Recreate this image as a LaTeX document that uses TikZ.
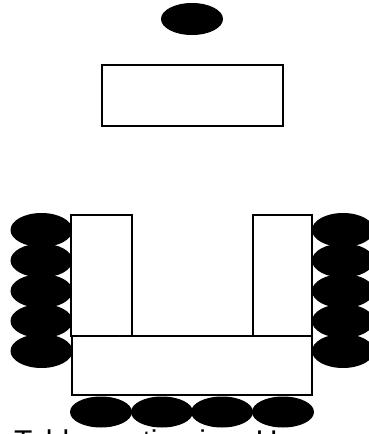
\documentclass[tikz,border=0pt]{standalone}
\usepackage{fontspec}
\setmainfont{Liberation Sans}
\usetikzlibrary{shapes.geometric}
\begin{document}
\begin{tikzpicture}
  [x=1pt,y=-1pt,
   chair/.style={ellipse,fill=black,minimum width=62pt,minimum height=34pt,inner sep=0pt},
   tablebox/.style={rectangle,draw,line width=2pt,fill=white,inner sep=0pt}]
  \useasboundingbox (0,0) rectangle (369,434);

  \node[chair,minimum height=32pt] (c0) at (192,19) {};
  \node[tablebox,minimum width=181pt,minimum height=61pt] (head) at (192.5,95) {};

  \foreach \i/\y in {1/230,2/260.5,3/291,4/321,5/351}
  {
    \node[chair] (l\i) at (41.5,\y) {};
    \node[chair] (r\i) at (343,\y) {};
  }
  \foreach \i/\x in {1/101,2/162,3/222,4/283}
  \node[chair,minimum height=31pt] (b\i) at (\x,412) {};

  \node[tablebox,minimum width=61pt,minimum height=121pt] (left) at (101.5,275.5) {};
  \node[tablebox,minimum width=59pt,minimum height=121pt] (right) at (282.5,275.5) {};
  \node[tablebox,minimum width=240pt,minimum height=59pt] (base) at (192,365.5) {};

  \node[anchor=base west,inner sep=0pt,font=\fontsize{30}{36}\selectfont] (caption) at (14,451.5) {Table seating in a U};
\end{tikzpicture}
\end{document}
